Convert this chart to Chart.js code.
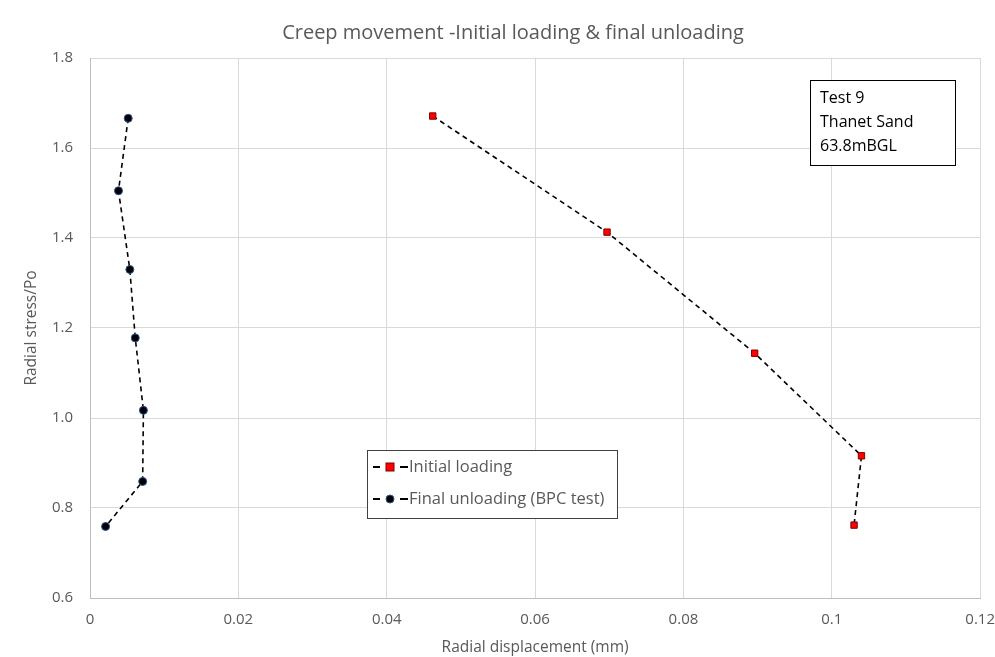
<!DOCTYPE html>
<html lang="en">
<head>
  <meta charset="UTF-8" />
  <title>Creep movement</title>
  <style>
    html, body { margin: 0; padding: 0; background: #fff; overflow: hidden; }
    #clip { width: 995px; height: 657px; overflow: hidden; }
    #wrap { width: 1008px; height: 657px; position: relative; }
  </style>
</head>
<body>
  <div id="clip"><div id="wrap"><canvas id="grafico"></canvas></div></div>

  <script src="https://cdn.jsdelivr.net/npm/chart.js"></script>
  <script>
    // data
    const loadingX = [0.0462, 0.0697, 0.0896, 0.1040, 0.1030];
    const loadingY = [1.671, 1.413, 1.144, 0.916, 0.762];
    const unloadingX = [0.00515, 0.00384, 0.00537, 0.0061, 0.0072, 0.0071, 0.0021];
    const unloadingY = [1.666, 1.505, 1.330, 1.178, 1.017, 0.859, 0.759];
    const xTicks = ['0', '0.02', '0.04', '0.06', '0.08', '0.1', '0.12'];
    const yTicks = ['0.6', '0.8', '1.0', '1.2', '1.4', '1.6', '1.8'];
    const seriesNames = ['Initial loading', 'Final unloading (BPC test)'];
    const noteLines = ['Test 9', 'Thanet Sand', '63.8mBGL'];

    const fonte = "'Open Sans', 'Liberation Sans', sans-serif";
    const cinza = '#595959';

    const pontos = (xs, ys) => xs.map((x, i) => ({ x, y: ys[i] }));

    // legend box + text box drawn inside the plot
    const caixas = {
      id: 'caixas',
      afterDraw(chart) {
        const ctx = chart.ctx;
        const a = chart.chartArea;
        ctx.save();
        // text box (top right)
        let bx = a.left + 720, by = a.top + 22, bw = 145, bh = 85;
        ctx.fillStyle = '#fff';
        ctx.fillRect(bx, by, bw, bh);
        ctx.strokeStyle = '#000';
        ctx.lineWidth = 1;
        ctx.strokeRect(bx + 0.5, by + 0.5, bw, bh);
        ctx.fillStyle = '#000';
        ctx.font = '16px ' + fonte;
        ctx.textBaseline = 'middle';
        noteLines.forEach((t, i) => ctx.fillText(t, bx + 10, by + 18 + i * 24));

        // legend
        let lx = a.left + 277, ly = a.top + 392, lw = 250, lh = 68;
        ctx.fillStyle = '#fff';
        ctx.fillRect(lx, ly, lw, lh);
        ctx.strokeStyle = '#404040';
        ctx.strokeRect(lx + 0.5, ly + 0.5, lw, lh);
        seriesNames.forEach((nome, i) => {
          const cy = ly + 17 + i * 32;
          ctx.strokeStyle = '#000';
          ctx.lineWidth = 2;
          ctx.beginPath();
          ctx.moveTo(lx + 6, cy); ctx.lineTo(lx + 13, cy);
          ctx.moveTo(lx + 33, cy); ctx.lineTo(lx + 41, cy);
          ctx.stroke();
          ctx.lineWidth = 1;
          if (i === 0) {
            ctx.fillStyle = '#ff0000';
            ctx.fillRect(lx + 19, cy - 4, 8, 8);
            ctx.strokeStyle = '#7f0000';
            ctx.strokeRect(lx + 19, cy - 4, 8, 8);
          } else {
            ctx.fillStyle = '#000';
            ctx.strokeStyle = '#2f5597';
            ctx.beginPath();
            ctx.arc(lx + 23, cy, 4, 0, Math.PI * 2);
            ctx.fill(); ctx.stroke();
          }
          ctx.fillStyle = cinza;
          ctx.font = '16.5px ' + fonte;
          ctx.fillText(nome, lx + 42, cy);
        });
        ctx.restore();
      }
    };

    const ctx = document.getElementById('grafico').getContext('2d');
    new Chart(ctx, {
      type: 'scatter',
      data: {
        datasets: [
          {
            label: seriesNames[0],
            data: pontos(loadingX, loadingY),
            showLine: true,
            borderColor: '#000',
            borderWidth: 1.6,
            borderDash: [5, 4],
            pointStyle: 'rect',
            pointRadius: 4.5,
            pointBackgroundColor: '#ff0000',
            pointBorderColor: '#7f0000',
            pointBorderWidth: 1
          },
          {
            label: seriesNames[1],
            data: pontos(unloadingX, unloadingY),
            showLine: true,
            borderColor: '#000',
            borderWidth: 1.6,
            borderDash: [5, 4],
            pointStyle: 'circle',
            pointRadius: 4,
            pointBackgroundColor: '#000',
            pointBorderColor: '#2f5597',
            pointBorderWidth: 1
          }
        ]
      },
      options: {
        responsive: true,
        maintainAspectRatio: false,
        animation: false,
        layout: { padding: { top: 0, right: 0, left: 18, bottom: 0 } },
        plugins: {
          legend: { display: false },
          tooltip: { enabled: false },
          title: {
            display: true,
            text: 'Creep movement -Initial loading & final unloading',
            color: cinza,
            font: { family: fonte, size: 20, weight: 'normal' },
            padding: { top: 21, bottom: 13 }
          }
        },
        scales: {
          x: {
            type: 'linear',
            min: 0, max: 0.12,
            afterFit: s => { s.height = 59; },
            ticks: {
              stepSize: 0.02,
              color: cinza,
              padding: 13,
              maxRotation: 0,
              font: { family: fonte, size: 15 },
              callback: (v, i) => xTicks[i]
            },
            grid: { color: '#d9d9d9', drawTicks: false },
            border: { color: '#bfbfbf' },
            title: {
              display: true,
              text: 'Radial displacement (mm)',
              color: cinza,
              font: { family: fonte, size: 15.5 },
              padding: { top: 4, bottom: 0 }
            }
          },
          y: {
            type: 'linear',
            min: 0.6, max: 1.8,
            afterFit: s => { s.width = 72; },
            ticks: {
              stepSize: 0.2,
              color: cinza,
              padding: 17,
              font: { family: fonte, size: 15 },
              callback: (v, i) => yTicks[i]
            },
            grid: { color: '#d9d9d9', drawTicks: false },
            border: { color: '#bfbfbf' },
            title: {
              display: true,
              text: 'Radial stress/Po',
              color: cinza,
              font: { family: fonte, size: 15.5 },
              padding: { bottom: 4 }
            }
          }
        }
      },
      plugins: [caixas]
    });
  </script>
</body>
</html>
